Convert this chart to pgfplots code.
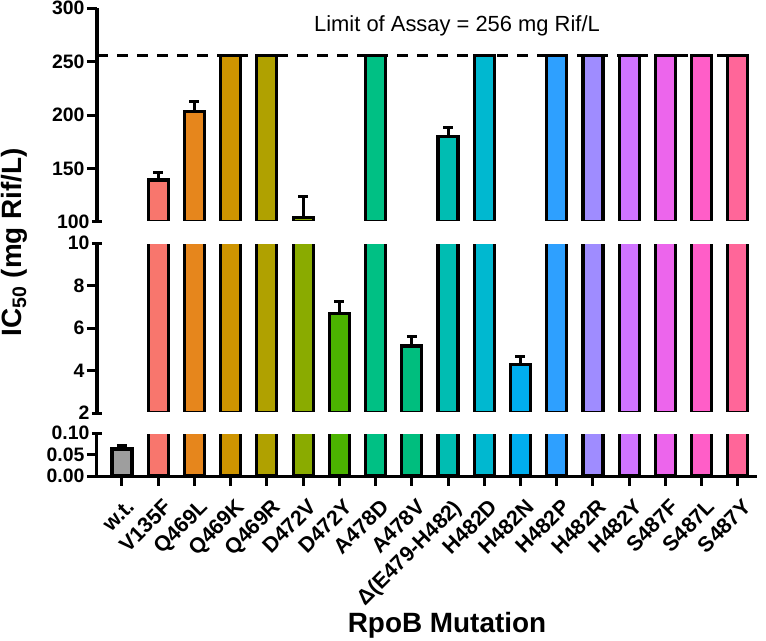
\documentclass[border=0pt]{standalone}
\usepackage{pgfplots}
\pgfplotsset{compat=1.18}
\usepackage{fontspec}
\setmainfont{Liberation Sans}
\definecolor{cWT}{HTML}{9E9E9E}
\definecolor{c1}{HTML}{F8766D}
\definecolor{c2}{HTML}{E6861C}
\definecolor{c3}{HTML}{CE9400}
\definecolor{c4}{HTML}{B0A100}
\definecolor{c5}{HTML}{8AAB00}
\definecolor{c6}{HTML}{4BB300}
\definecolor{c7}{HTML}{00C084}
\definecolor{c8}{HTML}{00BE7E}
\definecolor{c9}{HTML}{00BDB2}
\definecolor{c10}{HTML}{00B8D0}
\definecolor{c11}{HTML}{00AEEF}
\definecolor{c12}{HTML}{2EA0FF}
\definecolor{c13}{HTML}{9F8CFF}
\definecolor{c14}{HTML}{D074FF}
\definecolor{c15}{HTML}{EC65EC}
\definecolor{c16}{HTML}{FF5EC8}
\definecolor{c17}{HTML}{FF6699}
\pgfplotsset{
  bbar/.style={fill=#1, draw=black, line width=3.2bp, bar shift=0pt, bar width=20bp,
    error bars/.cd, y dir=plus, y explicit,
    error bar style={line width=3bp, black},
    error mark options={rotate=90, mark size=5bp, line width=3bp, black}},
  brk/.style={
    width=660bp, scale only axis, xmin=-0.69, xmax=17.53,
    ybar, axis line style={line width=3bp}, major tick style={line width=3bp, black},
    major tick length=10bp, tick align=outside,
    ytick pos=left,
    yticklabel style={font=\fontsize{19.5}{20}\selectfont\bfseries, xshift=1bp},
    /pgf/number format/assume math mode=true,
    clip=true,
  }
}
\newcommand{\allbars}{%
\addplot[bbar=cWT] coordinates {(0,0.063) +- (0,0.009)};
\addplot[bbar=c1] coordinates {(1,139) +- (0,7)};
\addplot[bbar=c2] coordinates {(2,203) +- (0,10)};
\addplot[bbar=c3] coordinates {(3,256) +- (0,0)};
\addplot[bbar=c4] coordinates {(4,256) +- (0,0)};
\addplot[bbar=c5] coordinates {(5,104) +- (0,20)};
\addplot[bbar=c6] coordinates {(6,6.7) +- (0,0.57)};
\addplot[bbar=c7] coordinates {(7,256) +- (0,0)};
\addplot[bbar=c8] coordinates {(8,5.15) +- (0,0.45)};
\addplot[bbar=c9] coordinates {(9,180) +- (0,8)};
\addplot[bbar=c10] coordinates {(10,256) +- (0,0)};
\addplot[bbar=c11] coordinates {(11,4.3) +- (0,0.37)};
\addplot[bbar=c12] coordinates {(12,256) +- (0,0)};
\addplot[bbar=c13] coordinates {(13,256) +- (0,0)};
\addplot[bbar=c14] coordinates {(14,256) +- (0,0)};
\addplot[bbar=c15] coordinates {(15,256) +- (0,0)};
\addplot[bbar=c16] coordinates {(16,256) +- (0,0)};
\addplot[bbar=c17] coordinates {(17,256) +- (0,0)};
}
\begin{document}
\begin{tikzpicture}
\useasboundingbox (-97bp,0bp) rectangle (669bp,-641bp);
% top segment
\begin{axis}[brk, at={(0bp,-221.7bp)}, anchor=south west, height=213.4bp,
  ymin=100, ymax=300, ytick={150,200,250,300}, extra y ticks={100},
  extra y tick style={tick align=center},
  restrict y to domain=100:1000,
  axis x line=none, axis y line*=left]
\begin{scope}
\clip ([yshift=1.7bp]rel axis cs:0,0) rectangle ([yshift=20bp]rel axis cs:1,1);
\allbars
\end{scope}
\addplot[black, line width=3bp, dash pattern=on 11bp off 9bp, sharp plot, forget plot] coordinates {(-0.69,256) (17.4,256)};
\end{axis}
% middle segment
\begin{axis}[brk, at={(0bp,-413bp)}, anchor=south west, height=170bp,
  ymin=2, ymax=10, ytick={4,6,8}, extra y ticks={2,10},
  extra y tick style={tick align=center},
  y filter/.expression={min(y,20)},
  restrict y to domain=2:1000,
  axis x line=none, axis y line*=left]
\begin{scope}
\clip ([yshift=1.7bp]rel axis cs:0,0) rectangle ([yshift=-1.7bp]rel axis cs:1,1);
\allbars
\end{scope}
\end{axis}
% bottom segment
\begin{axis}[brk, at={(0bp,-476bp)}, anchor=south west, height=43bp,
  ymin=0, ymax=0.1, ytick={0,0.05}, extra y ticks={0.10},
  extra y tick style={tick align=center},
  y filter/.expression={min(y,0.2)},
  /pgf/number format/fixed, /pgf/number format/fixed zerofill, /pgf/number format/precision=2,
  axis x line*=bottom, axis y line*=left,
  xtick={0,...,17}, xtick pos=bottom,
  xticklabels={w.t.,V135F,Q469L,Q469K,Q469R,D472V,D472Y,A478D,A478V,{Δ(E479-H482)},H482D,H482N,H482P,H482R,H482Y,S487F,S487L,S487Y},
  xticklabel style={font=\fontsize{21.5}{22}\selectfont\bfseries, anchor=north east, inner sep=0.5bp, xshift=4bp, yshift=-11bp, rotate=45}]
\begin{scope}
\clip ([yshift=-5bp]rel axis cs:0,0) rectangle ([yshift=-1.7bp]rel axis cs:1,1);
\allbars
\end{scope}
\end{axis}
\node[font=\fontsize{22}{24}\selectfont, anchor=base] at (360bp,-31bp) {Limit of Assay = 256 mg Rif/L};
\node[font=\fontsize{28}{30}\selectfont\bfseries, rotate=90] at (-83bp,-242bp) {IC\textsubscript{50} (mg Rif/L)};
\node[font=\fontsize{28}{30}\selectfont\bfseries, anchor=base] at (350bp,-632bp) {RpoB Mutation};
\end{tikzpicture}
\end{document}
